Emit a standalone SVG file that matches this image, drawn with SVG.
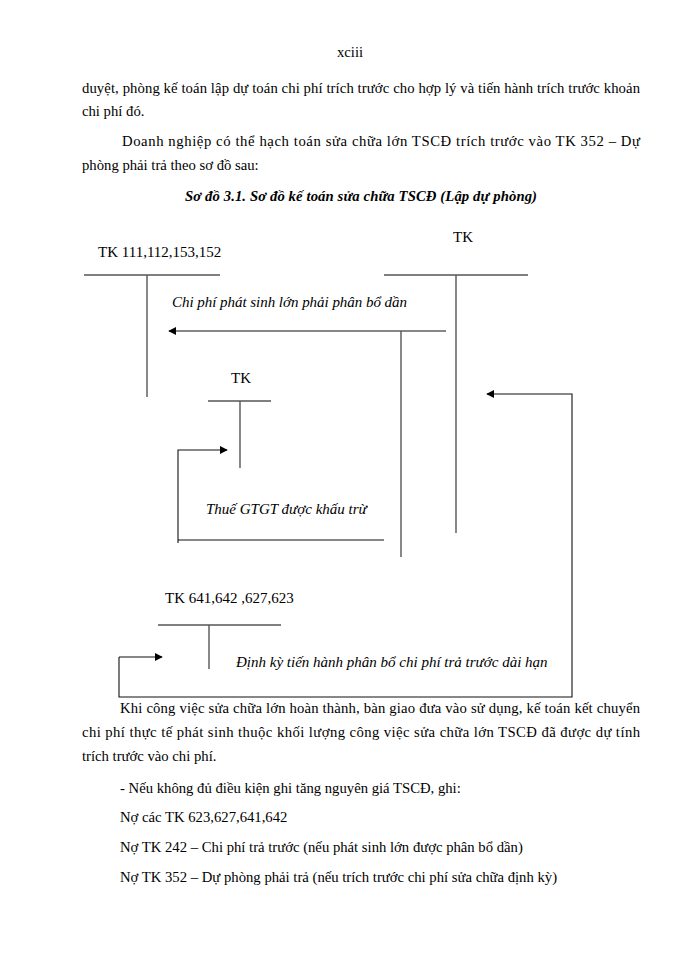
<svg xmlns="http://www.w3.org/2000/svg" width="700" height="960" viewBox="0 0 700 960">
<style>
.t{font-family:"Liberation Serif","Times New Roman",serif;font-size:14.7px;fill:#000}
.d{font-size:15px}
.i{font-style:italic}
.b{font-weight:bold}
.acc{stroke:#555;stroke-width:1.4;fill:none}
.con{stroke:#111;stroke-width:1.1;fill:none}
</style>
<defs>
<marker id="ah" viewBox="0 0 10 10" refX="9" refY="5" markerWidth="8" markerHeight="8" markerUnits="userSpaceOnUse" orient="auto">
<path d="M0,0 L10,5 L0,10 Z" fill="#000"/>
</marker>
</defs>
<rect width="700" height="960" fill="#fff"/>
<g id="page-text">
<text class="t" x="350" y="57" text-anchor="middle">xciii</text>
<text class="t" x="82" y="93" textLength="558" lengthAdjust="spacing">duyệt, phòng kế toán lập dự toán chi phí trích trước cho hợp lý và tiến hành trích trước khoản</text>
<text class="t" x="82" y="116">chi phí đó.</text>
<text class="t" x="122" y="146" textLength="518" lengthAdjust="spacing">Doanh nghiệp có thể hạch toán sửa chữa lớn TSCĐ  trích trước vào TK 352 – Dự</text>
<text class="t" x="82" y="170">phòng phải trả theo sơ đồ sau:</text>
<text class="t b i" x="185" y="201" textLength="352" lengthAdjust="spacing">Sơ đồ 3.1. Sơ đồ kế toán sửa chữa TSCĐ  (Lập dự phòng)</text>
</g>
<g id="tk-111">
<text class="t d" x="98" y="257">TK 111,112,153,152</text>
<line class="acc" x1="84" y1="275" x2="220" y2="275"/>
<line class="acc" x1="147" y1="275" x2="147" y2="397"/>
</g>
<g id="tk-right">
<text class="t d" x="453" y="242">TK</text>
<line class="acc" x1="384" y1="275" x2="528" y2="275"/>
<line class="acc" x1="456" y1="275" x2="456" y2="533"/>
</g>
<g id="tk-vat">
<text class="t d" x="231" y="383">TK</text>
<line class="acc" x1="208" y1="401" x2="271" y2="401"/>
<line class="acc" x1="240" y1="401" x2="240" y2="468"/>
</g>
<g id="tk-641">
<text class="t d" x="165" y="603">TK 641,642 ,627,623</text>
<line class="acc" x1="158" y1="625" x2="281" y2="625"/>
<line class="acc" x1="209" y1="625" x2="209" y2="669"/>
</g>
<g id="connectors">
<line class="con" x1="446" y1="331" x2="169" y2="331" marker-end="url(#ah)"/>
<line class="acc" x1="401" y1="331" x2="401" y2="557"/>
<polyline class="con" points="178,543 178,450 227,450" marker-end="url(#ah)"/>
<line class="con" x1="178" y1="540" x2="384" y2="540"/>
<polyline class="con" points="119,657 119,697 572,697 572,394 487,394" marker-end="url(#ah)"/>
<line class="con" x1="119" y1="657" x2="162" y2="657" marker-end="url(#ah)"/>
</g>
<g id="labels">
<text class="t d i" x="172" y="307" textLength="235" lengthAdjust="spacing">Chi phí phát sinh lớn phải phân bổ dần</text>
<text class="t d i" x="206" y="514">Thuế GTGT được khấu trừ</text>
<text class="t d i" x="236" y="667">Định kỳ tiến hành phân bổ chi phí trả trước dài hạn</text>
</g>
<g id="page-text-2">
<text class="t" x="120" y="713" textLength="520" lengthAdjust="spacing">Khi công việc sửa chữa lớn hoàn thành, bàn giao đưa vào sử dụng, kế toán kết chuyển</text>
<text class="t" x="82" y="737" textLength="558" lengthAdjust="spacing">chi phí thực tế phát sinh thuộc khối lượng công việc sửa chữa lớn TSCĐ đã được dự tính</text>
<text class="t" x="82" y="761">trích trước vào chi phí.</text>
<text class="t" x="120" y="793">- Nếu không đủ điều kiện ghi tăng nguyên  giá TSCĐ,  ghi:</text>
<text class="t" x="120" y="822">Nợ các TK  623,627,641,642</text>
<text class="t" x="120" y="852">Nợ TK 242 – Chi phí trả trước (nếu phát  sinh lớn được phân bổ dần)</text>
<text class="t" x="120" y="882">Nợ TK 352 – Dự phòng phải trả (nếu trích trước chi phí  sửa chữa định kỳ)</text>
</g>
</svg>
